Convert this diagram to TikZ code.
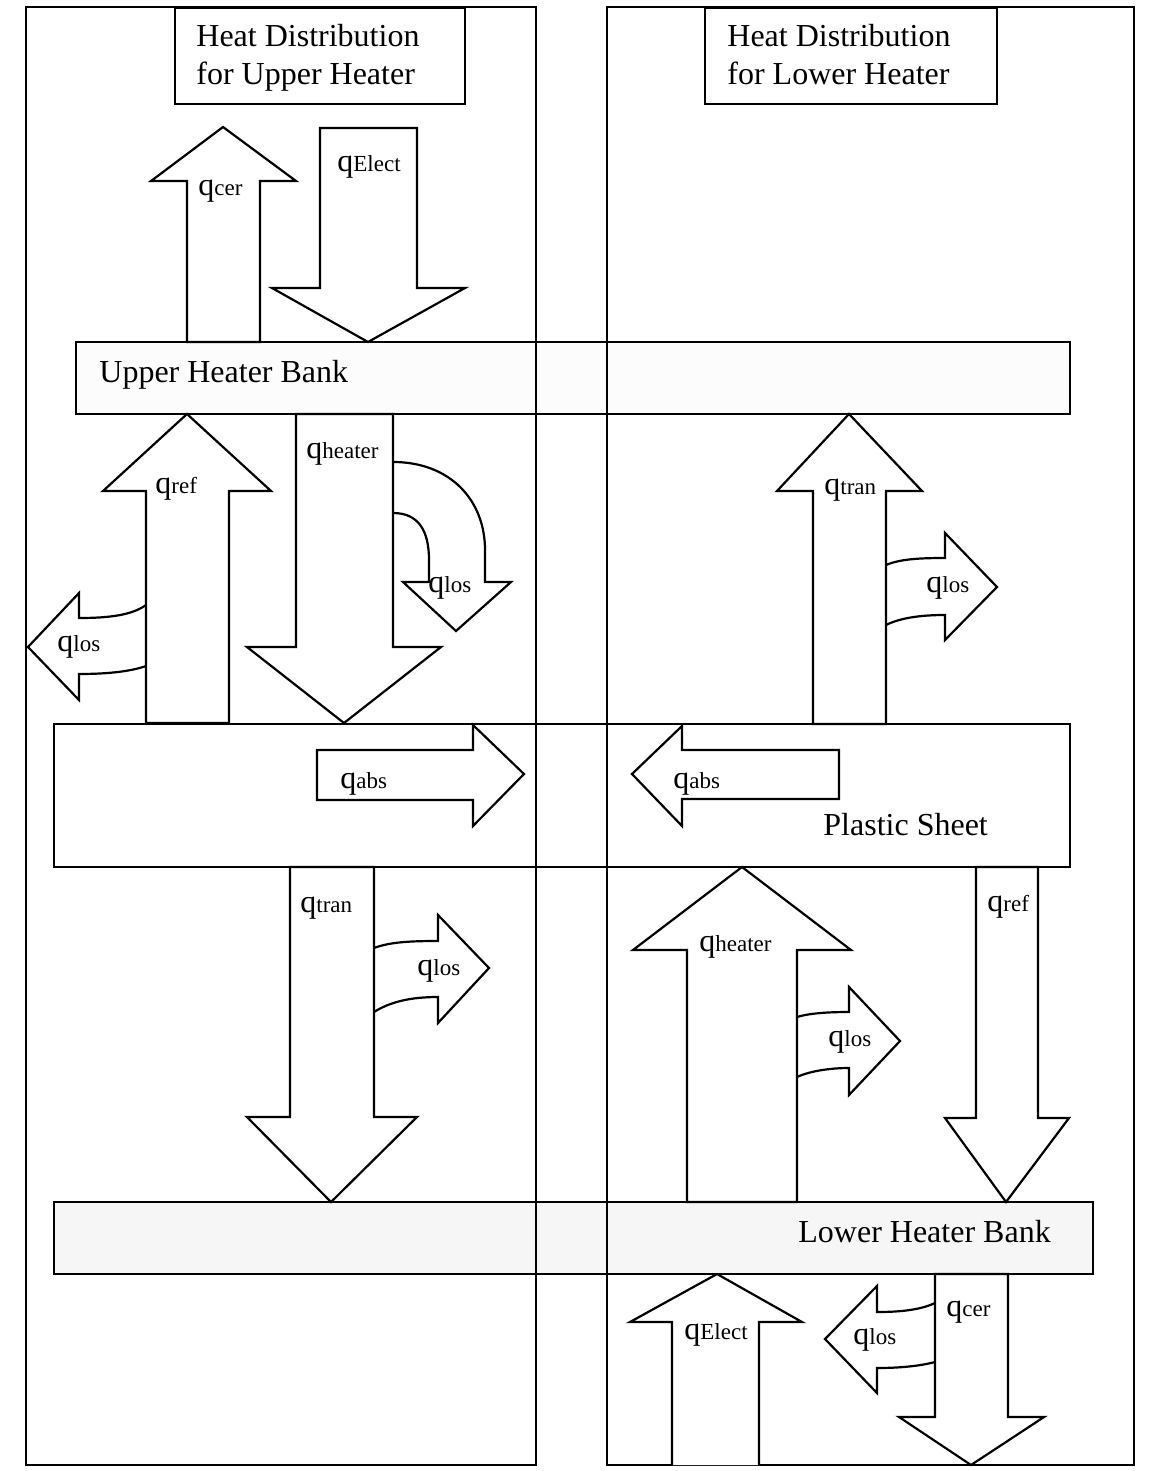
\documentclass[tikz,border=0pt]{standalone}
\usepackage{fontspec}
\setmainfont{Liberation Serif}
\newcommand{\qlab}[1]{{\fontsize{16}{16}\selectfont q}{\fontsize{11.5}{12}\selectfont #1}}
\begin{document}
\begin{tikzpicture}[x=0.5pt,y=-0.5pt,
  box/.style={draw, line width=1.1pt, inner sep=0pt, outer sep=0pt, anchor=north west},
  blk/.style={draw, fill=white, line width=1.1pt, line join=miter},
  lab/.style={inner sep=0pt, anchor=base west},
  txt/.style={inner sep=0pt, anchor=base west, font=\fontsize{16}{19}\selectfont}]
\useasboundingbox (0,0) rectangle (1151,1471);
% banks and sheet
\node[box, fill=gray!2, minimum width=497pt, minimum height=36pt] (ubank) at (76,342) {};
\node[box, fill=white, minimum width=508pt, minimum height=71.5pt] (sheet) at (54,724) {};
\node[box, fill=gray!7, minimum width=519.5pt, minimum height=36pt] (lbank) at (54,1202) {};
% title boxes
\node[box, minimum width=145pt, minimum height=48pt] (tleft) at (175,8) {};
\node[box, minimum width=146pt, minimum height=48pt] (tright) at (705,8) {};
% frames
\node[box, minimum width=255pt, minimum height=729pt] (fleft) at (26,7) {};
\node[box, minimum width=263.5pt, minimum height=729pt] (fright) at (607,7) {};
% texts
\node[txt] (t1a) at (196,47) {Heat Distribution};
\node[txt] (t1b) at (196,85) {for Upper Heater};
\node[txt] (t2a) at (727,47) {Heat Distribution};
\node[txt] (t2b) at (727,85) {for Lower Heater};
\node[txt] (ubt) at (99,382) {Upper Heater Bank};
\node[txt] (pst) at (823,835) {Plastic Sheet};
\node[txt] (lbt) at (798,1242) {Lower Heater Bank};
% ---- side (loss) arrows first, so the main shafts are stroked over them ----
\path[blk] (146,605) .. controls (132,615) and (110,618) .. (79,618) -- (79,593) -- (28,647) -- (79,700) -- (79,674) .. controls (110,674) and (132,671) .. (146,666);
\path[blk] (393,462) .. controls (450,462) and (485,500) .. (485,550) -- (485,582) -- (511,582) -- (456,631) -- (403,582) -- (429,582) -- (429,560) .. controls (429,530) and (418,513) .. (393,513);
\path[blk] (374,948) .. controls (390,942) and (410,941) .. (438,941) -- (438,915) -- (489,968) -- (438,1023) -- (438,997) .. controls (410,997) and (390,1002) .. (374,1012);
\path[blk] (886,565) .. controls (900,559) and (920,558) .. (945,558) -- (945,533) -- (997,587) -- (945,640) -- (945,615) .. controls (920,615) and (900,618) .. (886,625);
\path[blk] (797,1017) .. controls (810,1013) and (830,1012) .. (849,1012) -- (849,987) -- (900,1041) -- (849,1095) -- (849,1068) .. controls (830,1068) and (810,1071) .. (797,1077);
\path[blk] (935,1303) .. controls (920,1310) and (900,1312) .. (877,1312) -- (877,1286) -- (825,1339) -- (877,1393) -- (877,1368) .. controls (900,1368) and (920,1366) .. (935,1362);
% ---- main arrows, upper heater column ----
\path[blk] (187,342) -- (187,181) -- (151,181) -- (223,127) -- (296,181) -- (260,181) -- (260,342) -- cycle;
\path[blk] (320,128) -- (417,128) -- (417,288) -- (465,288) -- (368,342) -- (272,288) -- (320,288) -- cycle;
\path[blk] (146,723) -- (146,491) -- (103,491) -- (187,414) -- (271,491) -- (229,491) -- (229,723) -- cycle;
\path[blk] (296,414) -- (393,414) -- (393,647) -- (441,647) -- (344,723) -- (247,647) -- (296,647) -- cycle;
\path[blk] (317,750) -- (473,750) -- (473,725) -- (524,774) -- (473,826) -- (473,800) -- (317,800) -- cycle;
\path[blk] (290,867) -- (374,867) -- (374,1117) -- (417,1117) -- (331,1202) -- (247,1117) -- (290,1117) -- cycle;
% ---- main arrows, lower heater column ----
\path[blk] (813,724) -- (813,491) -- (777,491) -- (849,414) -- (922,491) -- (886,491) -- (886,724) -- cycle;
\path[blk] (839,750) -- (682,750) -- (682,726) -- (632,774) -- (682,826) -- (682,799) -- (839,799) -- cycle;
\path[blk] (687,1202) -- (687,950) -- (633,950) -- (742,867) -- (851,950) -- (797,950) -- (797,1202) -- cycle;
\path[blk] (976,867) -- (1038,867) -- (1038,1118) -- (1069,1118) -- (1006,1202) -- (945,1118) -- (976,1118) -- cycle;
\path[blk] (672,1465) -- (672,1322) -- (630,1322) -- (717,1274) -- (802,1322) -- (759,1322) -- (759,1465);
\path[blk] (935,1274) -- (1008,1274) -- (1008,1417) -- (1044,1417) -- (971,1465) -- (899,1417) -- (935,1417) -- cycle;
% ---- labels ----
\node[lab] (l1) at (198,196) {\qlab{cer}};
\node[lab] (l2) at (337,172) {\qlab{Elect}};
\node[lab] (l3) at (155,493) {\qlab{ref}};
\node[lab] (l4) at (306,458) {\qlab{heater}};
\node[lab] (l5) at (428,592) {\qlab{los}};
\node[lab] (l6) at (57,651) {\qlab{los}};
\node[lab] (l7) at (340,788) {\qlab{abs}};
\node[lab] (l8) at (300,912) {\qlab{tran}};
\node[lab] (l9) at (417,975) {\qlab{los}};
\node[lab] (r1) at (824,494) {\qlab{tran}};
\node[lab] (r2) at (926,592) {\qlab{los}};
\node[lab] (r3) at (673,788) {\qlab{abs}};
\node[lab] (r4) at (699,951) {\qlab{heater}};
\node[lab] (r5) at (828,1046) {\qlab{los}};
\node[lab] (r6) at (987,911) {\qlab{ref}};
\node[lab] (r7) at (684,1339) {\qlab{Elect}};
\node[lab] (r8) at (946,1316) {\qlab{cer}};
\node[lab] (r9) at (853,1344) {\qlab{los}};
\end{tikzpicture}
\end{document}
